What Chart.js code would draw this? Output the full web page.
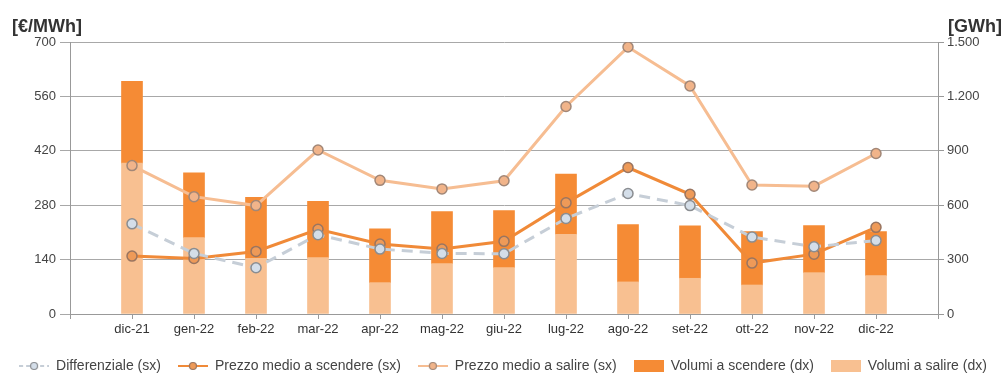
<!DOCTYPE html>
<html lang="it">
<head>
<meta charset="utf-8">
<script src="https://cdn.jsdelivr.net/npm/chart.js@4.4.1/dist/chart.umd.min.js"></script>
<style>
    html, body { margin: 0; padding: 0; background: #fff; }
    #wrap { width: 1006px; height: 375px; }
</style>
</head>
<body>
<div id="wrap"><canvas id="grafico" width="1006" height="375"></canvas></div>
<script>
// =====================
// DATI
// =====================
const mesi = ["dic-21","gen-22","feb-22","mar-22","apr-22","mag-22","giu-22","lug-22","ago-22","set-22","ott-22","nov-22","dic-22"];

// [€/MWh] asse sinistro
const differenziale  = [232, 156, 119, 204, 167, 156, 155, 246, 310, 279, 198, 173, 189];
const prezzoScendere = [149, 143, 161, 218, 180, 167, 187, 286, 377, 308, 131, 154, 223];
const prezzoSalire   = [382, 302, 279, 422, 344, 322, 343, 534, 687, 587, 332, 329, 413];

// [GWh] asse destro
const volumiScendere = [451, 358, 337, 311, 296, 287, 315, 331, 316, 289, 295, 260, 243];
const volumiSalire   = [832, 421, 307, 311, 173, 278, 256, 440, 177, 197, 160, 228, 212];

const ticksSx = [0, 140, 280, 420, 560, 700];
const ticksDx = [0, 300, 600, 900, 1200, 1500];

// =====================
// UTILS
// =====================
const FONT = '"Liberation Sans", Arial, sans-serif';
const punti = arr => arr.map((v, i) => ({ x: i, y: v }));
const migliaia = v => String(v).replace(/\B(?=(\d{3})+(?!\d))/g, ".");

// icone legenda (linea con pallino / rettangolo)
function iconaLinea(colore, fill, bordo, dash) {
    const c = document.createElement("canvas");
    c.width = 30; c.height = 12;
    const g = c.getContext("2d");
    g.strokeStyle = colore;
    g.lineWidth = 2;
    if (dash) g.setLineDash([4, 3]);
    g.beginPath(); g.moveTo(0, 6); g.lineTo(30, 6); g.stroke();
    g.setLineDash([]);
    g.beginPath(); g.arc(15, 6, 3.5, 0, Math.PI * 2);
    g.fillStyle = fill; g.fill();
    g.strokeStyle = bordo; g.lineWidth = 1.2; g.stroke();
    return c;
}
function iconaBox(colore) {
    const c = document.createElement("canvas");
    c.width = 30; c.height = 12;
    const g = c.getContext("2d");
    g.fillStyle = colore;
    g.fillRect(0, 0, 30, 12);
    return c;
}

const col = {
    diff: "#c6ced7", diffPunto: "#d4dee9", diffBordo: "#8a8d91",
    scendere: "#f08a38", scenderePunto: "#ee9a58", scendereBordo: "#9a7560",
    salire: "#f6bd92", salirePunto: "#f1b48a", salireBordo: "#a28777",
    barScendere: "#f58b35", barSalire: "#f8c091"
};

// =====================
// TITOLI ASSI
// =====================
const titoliAssi = {
    id: "titoliAssi",
    afterDraw(chart) {
        const ctx = chart.ctx;
        ctx.save();
        ctx.font = "bold 18px " + FONT;
        ctx.fillStyle = "#333";
        ctx.textAlign = "left";
        ctx.fillText("[€/MWh]", 12, 27);
        ctx.textAlign = "right";
        ctx.fillText("[GWh]", 1002, 27);
        ctx.restore();
    }
};

// =====================
// GRAFICO
// =====================
new Chart(document.getElementById("grafico"), {
    data: {
        datasets: [
            {
                type: "line",
                label: "Differenziale (sx)",
                data: punti(differenziale),
                yAxisID: "y",
                order: 0,
                borderColor: col.diff,
                borderWidth: 3,
                borderDash: [11, 7],
                pointRadius: 5,
                pointBorderWidth: 1.5,
                pointBackgroundColor: col.diffPunto,
                pointBorderColor: col.diffBordo,
                icona: iconaLinea(col.diff, col.diffPunto, col.diffBordo, true)
            },
            {
                type: "line",
                label: "Prezzo medio a scendere (sx)",
                data: punti(prezzoScendere),
                yAxisID: "y",
                order: 1,
                borderColor: col.scendere,
                borderWidth: 3,
                pointRadius: 5,
                pointBorderWidth: 1.5,
                pointBackgroundColor: col.scenderePunto,
                pointBorderColor: col.scendereBordo,
                icona: iconaLinea(col.scendere, col.scenderePunto, col.scendereBordo, false)
            },
            {
                type: "line",
                label: "Prezzo medio a salire (sx)",
                data: punti(prezzoSalire),
                yAxisID: "y",
                order: 2,
                borderColor: col.salire,
                borderWidth: 3,
                pointRadius: 5,
                pointBorderWidth: 1.5,
                pointBackgroundColor: col.salirePunto,
                pointBorderColor: col.salireBordo,
                icona: iconaLinea(col.salire, col.salirePunto, col.salireBordo, false)
            },
            {
                type: "bar",
                label: "Volumi a scendere (dx)",
                data: punti(volumiScendere),
                yAxisID: "y1",
                order: 4,
                backgroundColor: col.barScendere,
                barThickness: 21,
                icona: iconaBox(col.barScendere)
            },
            {
                type: "bar",
                label: "Volumi a salire (dx)",
                data: punti(volumiSalire),
                yAxisID: "y1",
                order: 3,
                backgroundColor: col.barSalire,
                barThickness: 21,
                icona: iconaBox(col.barSalire)
            }
        ]
    },
    options: {
        responsive: false,
        animation: false,
        layout: {
            padding: { top: 42, left: 0, right: 0, bottom: -8 }
        },
        plugins: {
            tooltip: { enabled: false },
            legend: {
                position: "bottom",
                labels: {
                    usePointStyle: true,
                    pointStyleWidth: 30,
                    padding: 17,
                    color: "#444",
                    font: { family: FONT, size: 14 },
                    generateLabels: chart => chart.data.datasets.map((ds, i) => ({
                        text: ds.label,
                        pointStyle: ds.icona,
                        datasetIndex: i,
                        fontColor: "#444",
                        hidden: false,
                        lineWidth: 0
                    })),
                    sort: (a, b) => a.datasetIndex - b.datasetIndex
                }
            }
        },
        scales: {
            x: {
                type: "linear",
                min: -1,
                max: mesi.length,
                offset: false,
                stacked: true,
                afterFit: s => { s.height = 28; },
                ticks: {
                    stepSize: 1,
                    autoSkip: false,
                    maxRotation: 0,
                    includeBounds: false,
                    padding: 3,
                    color: "#333",
                    font: { family: FONT, size: 13 },
                    callback: v => mesi[v] ?? ""
                },
                grid: {
                    offset: false,
                    drawOnChartArea: false,
                    drawTicks: true,
                    tickLength: 5,
                    color: "#999"
                },
                border: { color: "#999" }
            },
            y: {
                position: "left",
                min: ticksSx[0],
                max: ticksSx[ticksSx.length - 1],
                afterFit: s => { s.width = 70; },
                ticks: {
                    stepSize: ticksSx[1] - ticksSx[0],
                    padding: 4,
                    color: "#444",
                    font: { family: FONT, size: 13 }
                },
                grid: { color: "#a8a8a8", tickLength: 10 },
                border: { color: "#999" }
            },
            y1: {
                position: "right",
                stacked: true,
                min: ticksDx[0],
                max: ticksDx[ticksDx.length - 1],
                afterFit: s => { s.width = 68; },
                ticks: {
                    stepSize: ticksDx[1] - ticksDx[0],
                    padding: 3,
                    color: "#444",
                    font: { family: FONT, size: 13 },
                    callback: v => migliaia(v)
                },
                grid: { drawOnChartArea: false, tickLength: 6, color: "#999" },
                border: { color: "#999" }
            }
        }
    },
    plugins: [titoliAssi]
});
</script>
</body>
</html>
